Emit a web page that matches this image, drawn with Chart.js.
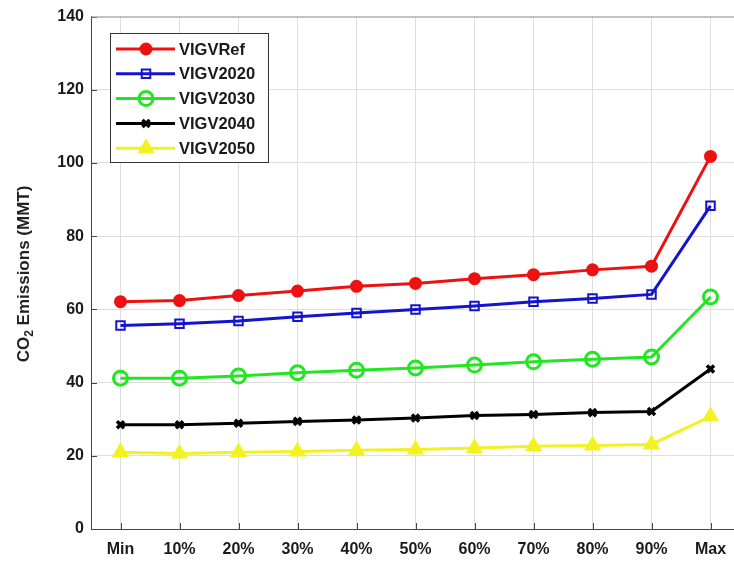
<!DOCTYPE html>
<html>
<head>
<style>
  body { margin: 0; overflow: hidden; background: #fff; }
</style>
</head>

<body>

<div>
  <canvas id="myChart" width="750" height="565"></canvas>
</div>

<script src="https://cdn.jsdelivr.net/npm/chart.js"></script>

<script>
  const labels = ['Min', '10%', '20%', '30%', '40%', '50%', '60%', '70%', '80%', '90%', 'Max'];
  const yTicks = [0, 20, 40, 60, 80, 100, 120, 140];

  const vigvRef  = [62.1, 62.4, 63.8, 65.0, 66.3, 67.1, 68.4, 69.5, 70.8, 71.8, 101.8];
  const vigv2020 = [55.6, 56.1, 56.8, 58.0, 59.0, 60.0, 60.9, 62.1, 63.0, 64.1, 88.3];
  const vigv2030 = [41.2, 41.2, 41.8, 42.7, 43.4, 44.0, 44.8, 45.7, 46.4, 47.0, 63.4];
  const vigv2040 = [28.5, 28.5, 28.9, 29.4, 29.8, 30.3, 31.0, 31.3, 31.8, 32.1, 43.7];
  const vigv2050 = [21.0, 20.6, 21.0, 21.2, 21.5, 21.7, 22.1, 22.6, 22.8, 23.1, 30.8];

  const FONT = 'Liberation Sans, Arial, sans-serif';

  function series(label, values, color, style, radius, fill, pbw) {
    return {
      label: label,
      data: values,
      borderColor: color,
      backgroundColor: fill ? color : 'rgba(0,0,0,0)',
      pointBorderColor: color,
      pointBackgroundColor: fill ? color : 'rgba(0,0,0,0)',
      borderWidth: 3,
      pointStyle: style,
      pointRadius: radius,
      pointBorderWidth: pbw,
      tension: 0
    };
  }

  const data = {
    labels: labels,
    datasets: [
      series('VIGVRef', vigvRef, '#ee1111', 'circle', 5.5, true, 2),
      series('VIGV2020', vigv2020, '#1414cc', 'rect', 6, false, 2),
      series('VIGV2030', vigv2030, '#22e622', 'circle', 7, false, 3),
      series('VIGV2040', vigv2040, '#000000', 'crossRot', 5, false, 3.5),
      series('VIGV2050', vigv2050, '#f2f222', 'triangle', 8, true, 2)
    ]
  };

  // legend box, y title and inner tick marks, matlab style
  const extras = {
    id: 'extras',
    afterDraw(chart) {
      const ctx = chart.ctx;
      const area = chart.chartArea;
      const xs = chart.scales.x;
      const ys = chart.scales.y;

      ctx.save();
      ctx.strokeStyle = '#444';
      ctx.lineWidth = 1;
      ctx.beginPath();
      labels.forEach((l, i) => {
        const px = Math.round(xs.getPixelForValue(i)) + 0.5;
        ctx.moveTo(px, area.bottom);
        ctx.lineTo(px, area.bottom - 6);
      });
      yTicks.forEach(v => {
        const py = Math.round(ys.getPixelForValue(v)) + 0.5;
        ctx.moveTo(area.left, py);
        ctx.lineTo(area.left + 6, py);
      });
      ctx.stroke();
      ctx.strokeStyle = '#999';
      ctx.beginPath();
      ctx.moveTo(area.left, area.top + 0.5);
      ctx.lineTo(area.right, area.top + 0.5);
      ctx.stroke();

      // y axis title with subscript
      ctx.translate(24, 274);
      ctx.rotate(-Math.PI / 2);
      ctx.fillStyle = '#222';
      ctx.textBaseline = 'middle';
      const a = 'CO', b = '2', c = ' Emissions (MMT)';
      ctx.font = 'bold 17px ' + FONT;
      const wa = ctx.measureText(a).width, wc = ctx.measureText(c).width;
      ctx.font = 'bold 12px ' + FONT;
      const wb = ctx.measureText(b).width;
      let x0 = -(wa + wb + wc) / 2;
      ctx.font = 'bold 17px ' + FONT;
      ctx.fillText(a, x0, 0);
      ctx.font = 'bold 12px ' + FONT;
      ctx.fillText(b, x0 + wa, 6);
      ctx.font = 'bold 17px ' + FONT;
      ctx.fillText(c, x0 + wa + wb, 0);
      ctx.restore();

      // legend
      ctx.save();
      ctx.fillStyle = '#fff';
      ctx.fillRect(110, 33, 158, 129);
      ctx.strokeStyle = '#333';
      ctx.lineWidth = 1;
      ctx.strokeRect(110.5, 33.5, 158, 129);
      chart.data.datasets.forEach((ds, i) => {
        const y = 49 + i * 24.8;
        ctx.strokeStyle = ds.borderColor;
        ctx.lineWidth = 3;
        ctx.beginPath();
        ctx.moveTo(116, y);
        ctx.lineTo(175, y);
        ctx.stroke();
        ctx.fillStyle = ds.pointBackgroundColor;
        ctx.lineWidth = ds.pointBorderWidth;
        Chart.helpers.drawPoint(ctx, {
          pointStyle: ds.pointStyle,
          radius: ds.pointRadius,
          borderWidth: ds.pointBorderWidth,
          rotation: 0
        }, 146, y);
        ctx.fillStyle = '#1a1a1a';
        ctx.font = 'bold 16.5px ' + FONT;
        ctx.textBaseline = 'middle';
        ctx.fillText(ds.label, 179, y + 1);
      });
      ctx.restore();
    }
  };

  const config = {
    type: 'line',
    data: data,
    options: {
      responsive: false,
      animation: false,
      layout: { padding: { top: 14, right: 10, left: 0, bottom: 0 } },
      plugins: {
        legend: { display: false },
        tooltip: { enabled: false }
      },
      scales: {
        x: {
          offset: true,
          grid: { offset: false, color: '#dedede', drawTicks: false },
          border: { color: '#444', width: 1 },
          ticks: { color: '#1a1a1a', font: { family: FONT, size: 16, weight: 'bold' }, padding: 11 },
          afterFit: s => { s.height = 36; }
        },
        y: {
          min: 0,
          max: 140,
          grid: { color: '#dedede', drawTicks: false },
          border: { color: '#444', width: 1 },
          afterBuildTicks: s => { s.ticks = yTicks.map(v => ({ value: v })); },
          ticks: { color: '#1a1a1a', font: { family: FONT, size: 16, weight: 'bold' }, padding: 7 },
          afterFit: s => { s.width = 91; }
        }
      }
    },
    plugins: [extras]
  };
</script>

<script>
  const myChart = new Chart(
    document.getElementById('myChart'),
    config
  );
</script>

</body>
</html>
